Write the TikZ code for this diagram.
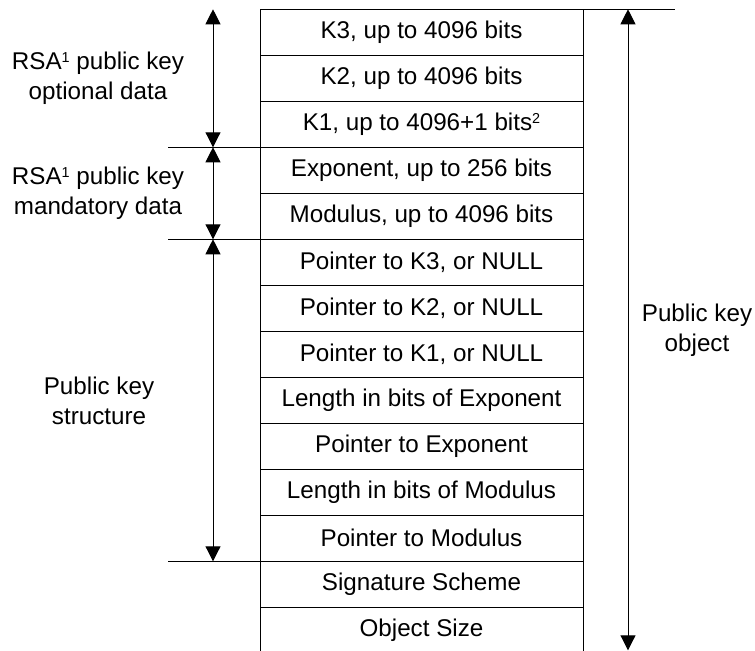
\documentclass[tikz,border=0pt]{standalone}
\usepackage{fontspec}
\setmainfont{Liberation Sans}
\usetikzlibrary{arrows.meta, positioning, calc}

\newcommand{\supnum}[1]{\raisebox{3.4pt}{\fontsize{7.2}{8}\selectfont #1}}

\tikzset{
	field/.style={rectangle, draw, line width=0.5pt, outer sep=0pt, inner sep=0pt, minimum width=161.5pt, minimum height=23pt, font=\fontsize{12.1}{15}\selectfont},
	grouplbl/.style={align=center, font=\fontsize{12.1}{15}\selectfont},
	span/.style={{Triangle[width=7.5pt,length=7.5pt]}-{Triangle[width=7.5pt,length=7.5pt]}, line width=0.5pt},
}

\begin{document}
\begin{tikzpicture}
			\useasboundingbox (0,0) rectangle (377.5pt,-325.5pt);
			
			\node[field] (k3) at (210.75pt, -16.15pt) {K3, up to 4096 bits};
			\node[field, below=0pt of k3] (k2) {K2, up to 4096 bits};
			\node[field, below=0pt of k2] (k1) {K1, up to 4096+1 bits\supnum{2}};
			\node[field, below=0pt of k1] (expo) {Exponent, up to 256 bits};
			\node[field, below=0pt of expo] (modu) {Modulus, up to 4096 bits};
			\node[field, below=0pt of modu] (ptrkthree) {Pointer to K3, or NULL};
			\node[field, below=0pt of ptrkthree] (ptrktwo) {Pointer to K2, or NULL};
			\node[field, below=0pt of ptrktwo] (ptrkone) {Pointer to K1, or NULL};
			\node[field, below=0pt of ptrkone] (lenexp) {Length in bits of Exponent};
			\node[field, below=0pt of lenexp] (ptrexp) {Pointer to Exponent};
			\node[field, below=0pt of ptrexp] (lenmod) {Length in bits of Modulus};
			\node[field, below=0pt of lenmod] (ptrmod) {Pointer to Modulus};
			\node[field, below=0pt of ptrmod] (sigsch) {Signature Scheme};
			\node[field, below=0pt of sigsch] (objsize) {Object Size};
			
			% separators
			\coordinate[left=46pt of k1.south west] (sepopt);
			\coordinate[left=46pt of modu.south west] (sepmand);
			\coordinate[left=46pt of ptrmod.south west] (sepstruct);
			\coordinate[right=46pt of k3.north east] (septop);
			\draw[line width=0.5pt] (sepopt) -- (k1.south west);
			\draw[line width=0.5pt] (sepmand) -- (modu.south west);
			\draw[line width=0.5pt] (sepstruct) -- (ptrmod.south west);
			\draw[line width=0.5pt] (k3.north east) -- (septop);
			
			\draw[span] ([xshift=-23.5pt]k3.north west) -- ([xshift=-23.5pt]k1.south west);
			\draw[span] ([xshift=-23.5pt]expo.north west) -- ([xshift=-23.5pt]modu.south west);
			\draw[span] ([xshift=-23.5pt]ptrkthree.north west) -- ([xshift=-23.5pt]ptrmod.south west);
			\draw[span] ([xshift=22.5pt]k3.north east) -- ([xshift=22.5pt, yshift=1.5pt]objsize.south east);
			
			\node[grouplbl] (optlbl) at (49pt, -39pt) {RSA\supnum{1} public key\\optional data};
			\node[grouplbl] (mandlbl) at (49pt, -96.5pt) {RSA\supnum{1} public key\\mandatory data};
			\node[grouplbl] (structlbl) at (49.5pt, -200.25pt) {Public key\\structure};
			\node[grouplbl] (objlbl) at (348.5pt, -165pt) {Public key\\object};
			
		\end{tikzpicture}
\end{document}
